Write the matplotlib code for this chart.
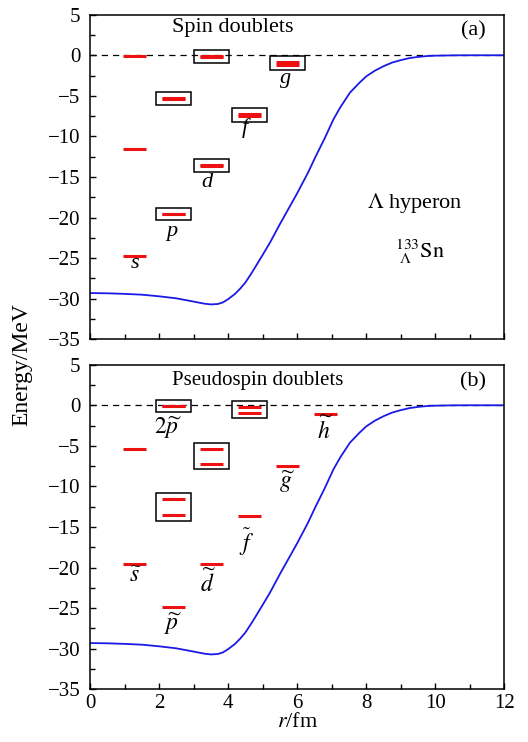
import numpy as np
import matplotlib
matplotlib.use("Agg")
import matplotlib.pyplot as plt
from matplotlib.patches import Rectangle
from matplotlib.ticker import MultipleLocator

plt.rcParams['font.family'] = ['Liberation Serif', 'DejaVu Serif']
plt.rcParams['mathtext.fontset'] = 'stix'
plt.rcParams['axes.unicode_minus'] = True

# mean-field potential (r in fm, V in MeV)
pot_r = [0, 0.5, 1.0, 1.5, 2.0, 2.5, 3.0, 3.3, 3.5, 3.7, 3.85, 4.0, 4.2, 4.35, 4.5, 4.7,
         5.0, 5.21, 5.5, 5.79, 6.0, 6.31, 6.52, 6.8, 7.05, 7.25, 7.53, 7.8, 8.0, 8.25,
         8.5, 8.75, 9.0, 9.25, 9.5, 9.75, 10.0, 10.5, 11.0, 12.0]
pot_v = [-29.3, -29.33, -29.4, -29.5, -29.7, -29.95, -30.35, -30.6, -30.7, -30.65, -30.45,
         -30.05, -29.4, -28.75, -28.0, -26.7, -24.6, -23.1, -20.8, -18.6, -17.0, -14.5,
         -12.6, -10.2, -7.9, -6.4, -4.6, -3.4, -2.6, -1.9, -1.35, -0.9, -0.6, -0.35,
         -0.2, -0.1, -0.05, -0.01, 0.0, 0.0]

# (a) spin doublets: single levels and doublet pairs (MeV)
spin_s = [-24.7, -11.5, -0.1]
spin_p = [(-19.5, -19.6), (-5.25, -5.4)]
spin_d = [(-13.5, -13.7), (-0.05, -0.2)]
spin_f = [(-7.2, -7.5)]
spin_g = [(-0.85, -1.15)]

# (b) pseudospin doublets
ps_single = [[-19.55, -5.35], [-24.8], [-19.6], [-13.7], [-7.45], [-1.07]]
ps_pairs = [[], [(-11.5, -13.55), (-0.05, -0.15)], [(-5.35, -7.2)], [(-0.2, -0.9)], [], []]
ps_labels = [r'$\widetilde{s}$', r'$\widetilde{p}$', r'$\widetilde{d}$', r'$\widetilde{f}$',
             r'$\widetilde{g}$', r'$\widetilde{h}$']

col_x = [1.3, 2.41, 3.51, 4.61, 5.72, 6.82]
half = 0.335
box_half = 0.51
red = '#ee1111'

fig = plt.figure(figsize=(5.28, 7.42), dpi=100)
ax1 = fig.add_axes([0.1705, 0.5427, 0.7847, 0.4375])
ax2 = fig.add_axes([0.1705, 0.0710, 0.7847, 0.4375])


def style(ax, show_x):
    ax.set_xlim(0, 12)
    ax.set_ylim(-35, 5)
    ax.xaxis.set_major_locator(MultipleLocator(2))
    ax.xaxis.set_minor_locator(MultipleLocator(1))
    ax.yaxis.set_major_locator(MultipleLocator(5))
    ax.yaxis.set_minor_locator(MultipleLocator(2.5))
    ax.tick_params(which='both', direction='in', top=False, right=False, labelsize=15, width=1.0)
    ax.tick_params(which='major', length=4)
    ax.tick_params(axis='y', which='major', pad=7)
    ax.tick_params(which='minor', length=3.5)
    if not show_x:
        ax.tick_params(axis='x', labelbottom=False)
    for sp in ax.spines.values():
        sp.set_linewidth(1.1)
    ax.axhline(0, color='black', lw=0.9, ls=(0, (5, 4)), zorder=1)
    ax.plot(pot_r, pot_v, color='#1a1ae6', lw=1.3, zorder=2)


def level(ax, c, e, lw=2.2):
    ax.plot([col_x[c] - half, col_x[c] + half], [e, e], color=red, lw=lw,
            solid_capstyle='butt', zorder=3)


def boxed(ax, c, pair):
    for e in pair:
        level(ax, c, e)
    top, bot = max(pair) + 0.7, min(pair) - 0.7
    ax.add_patch(Rectangle((col_x[c] - box_half, bot), 2 * box_half, top - bot,
                           fill=False, ec='black', lw=1.1, zorder=4))


style(ax1, False)
style(ax2, True)

# panel (a)
for e in spin_s:
    level(ax1, 0, e)
for c, pairs in zip([1, 2, 3, 4], [spin_p, spin_d, spin_f, spin_g]):
    for pr in pairs:
        boxed(ax1, c, pr)

it = dict(fontsize=16, style='italic', ha='center', va='center')
ax1.text(1.30, -25.6, 's', **it)
ax1.text(2.37, -21.7, 'p', **it)
ax1.text(3.38, -15.7, 'd', **it)
ax1.text(4.49, -9.0, 'f', **it)
ax1.text(5.65, -2.9, 'g', **it)
ax1.text(4.13, 3.4, 'Spin doublets', fontsize=16, ha='center', va='center')
ax1.text(11.1, 3.0, '(a)', fontsize=16, ha='center', va='center')
ax1.text(9.4, -18.2, r'$\Lambda$ hyperon', fontsize=16, ha='center', va='center')
ax1.text(9.55, -24.2, r'${}^{133}_{\ \Lambda}\mathrm{Sn}$', fontsize=16, ha='center', va='center')

# panel (b)
for c, lv in enumerate(ps_single):
    for e in lv:
        level(ax2, c, e)
for c, pairs in enumerate(ps_pairs):
    for pr in pairs:
        boxed(ax2, c, pr)

mt = dict(fontsize=17, ha='center', va='center')
ax2.text(1.30, -21.1, ps_labels[0], **mt)
ax2.text(2.40, -27.0, ps_labels[1], **mt)
ax2.text(3.42, -21.85, ps_labels[2], **mt)
ax2.text(4.54, -16.9, ps_labels[3], **mt)
ax2.text(5.70, -9.5, ps_labels[4], **mt)
ax2.text(6.81, -3.0, ps_labels[5], **mt)
ax2.text(2.26, -2.75, r'$2\widetilde{p}$', **mt)
ax2.text(2.37, 3.0, 'Pseudospin doublets', fontsize=15, ha='left', va='center')
ax2.text(11.1, 2.9, '(b)', fontsize=16, ha='center', va='center')

ax2.set_xlabel(r'$r$/fm', fontsize=16, labelpad=0)
fig.text(22 / 528, 1 - 365 / 742, 'Energy/MeV', rotation=90, fontsize=17,
         ha='center', va='center')

fig.savefig('out.png', dpi=100)
